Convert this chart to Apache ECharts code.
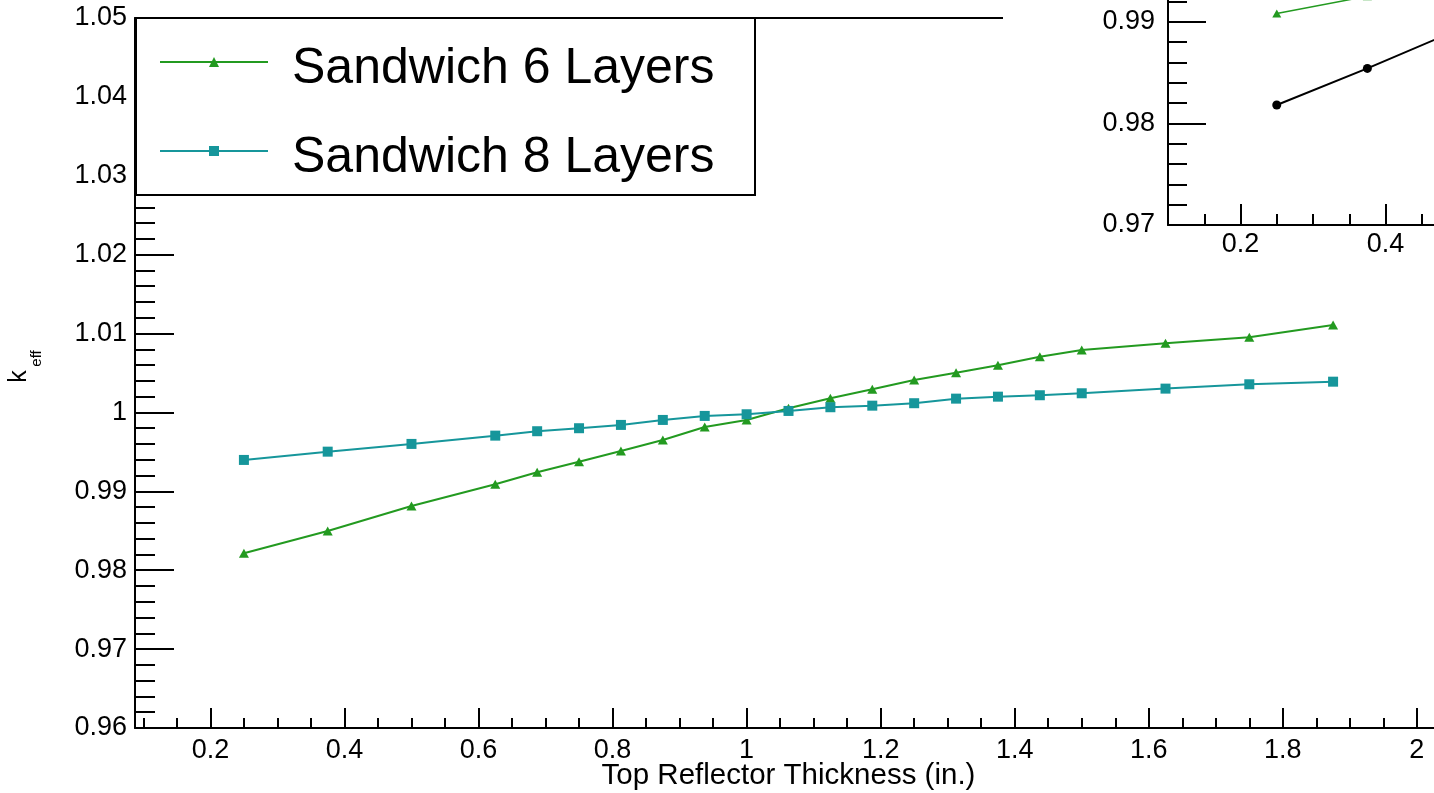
<!DOCTYPE html>
<html><head><meta charset="utf-8">
<script src="https://cdn.jsdelivr.net/npm/echarts@6/dist/echarts.min.js"></script>
<style>html,body{margin:0;padding:0;background:#fff}#c{width:1434px;height:793px}</style>
</head><body><div id="c"></div>
<script>
// ---- data ----
const thickness = [0.25,0.375,0.5,0.625,0.6875,0.75,0.8125,0.875,0.9375,1.0,1.0625,1.125,1.1875,1.25,1.3125,1.375,1.4375,1.5,1.625,1.75,1.875];
const sandwich6 = [0.98215,0.98498,0.98815,0.99090,0.99242,0.99376,0.99512,0.99651,0.99816,0.99905,1.00053,1.00180,1.00294,1.00412,1.00504,1.00598,1.00707,1.00792,1.00877,1.00953,1.01109];
const sandwich8 = [0.99398,0.99503,0.99601,0.99706,0.99762,0.99800,0.99842,0.99905,0.99956,0.99977,1.00019,1.00066,1.00086,1.00117,1.00175,1.00200,1.00218,1.00243,1.00302,1.00357,1.00390];
const insetX = [0.25,0.375,0.5];
const insetGreen = [0.9908,0.9925];
const insetBlack = [0.9818,0.9854,0.9892];
const xMajorTicks = [0.2,0.4,0.6,0.8,1.0,1.2,1.4,1.6,1.8,2.0];
const yMajorTicks = [0.96,0.97,0.98,0.99,1.0,1.01,1.02,1.03,1.04,1.05];
const insetXMajorTicks = [0.2,0.4];
const insetYMajorTicks = [0.97,0.98,0.99,1.0];

function steps(a, b, s) { const o = []; const n = Math.round((b - a) / s); for (let i = 0; i <= n; i++) o.push(+(a + i * s).toFixed(6)); return o; }
const xMinorTicks = steps(0.1, 2.0, 0.05);
const yMinorTicks = steps(0.96, 1.05, 0.002);
const insetXMinorTicks = steps(0.1, 0.6, 0.05);
const insetYMinorTicks = steps(0.97, 1.0, 0.002);
const fmt = v => String(+(+v).toFixed(3));

const GREEN = '#239a20', TEAL = '#16969b';
const FONT = "'Liberation Sans', Arial, Helvetica, sans-serif";
const lbl = {color: '#000', fontSize: 27, fontFamily: FONT};

function majorAxis(extra) {
  return Object.assign({
    type: 'value', splitLine: {show: false},
    axisLine: {show: true, onZero: false, lineStyle: {color: '#000', width: 2}},
  }, extra);
}

const chart = echarts.init(document.getElementById('c'), null, {renderer: 'canvas'});
chart.setOption({
  animation: false,
  backgroundColor: '#fff',
  textStyle: {fontFamily: FONT},
  grid: [
    {left: 135, top: 18, width: 1307, height: 710, containLabel: false, outerBoundsMode: 'none'},
    {left: 1168, top: -80, width: 362.5, height: 305, containLabel: false, outerBoundsMode: 'none'}
  ],
  xAxis: [
    majorAxis({gridIndex: 0, position: 'bottom', min: 0.0875, max: 2.0375,
      axisTick: {inside: true, length: 20, customValues: xMajorTicks, lineStyle: {color: '#000', width: 2}},
      axisLabel: Object.assign({customValues: xMajorTicks, formatter: fmt, margin: 9}, lbl),
      name: 'Top Reflector Thickness (in.)', nameLocation: 'middle', nameGap: 33, nameMoveOverlap: false,
      nameTextStyle: {color: '#000', fontSize: 29.5, fontFamily: FONT}}),
    {type: 'value', gridIndex: 0, position: 'bottom', min: 0.0875, max: 2.0375, splitLine: {show: false},
      axisLine: {show: false}, axisLabel: {show: false},
      axisTick: {inside: true, length: 10, customValues: xMinorTicks, lineStyle: {color: '#000', width: 2}}},
    {type: 'value', gridIndex: 0, position: 'top', min: 0.0875, max: 2.0375, splitLine: {show: false},
      axisLine: {show: true, lineStyle: {color: '#000', width: 2}}, axisLabel: {show: false}, axisTick: {show: false}},
    majorAxis({gridIndex: 1, position: 'bottom', min: 0.1, max: 0.6, z: 40,
      axisTick: {inside: true, length: 21, customValues: insetXMajorTicks, lineStyle: {color: '#000', width: 2}},
      axisLabel: Object.assign({customValues: insetXMajorTicks, formatter: fmt, margin: 6}, lbl)}),
    {type: 'value', gridIndex: 1, position: 'bottom', min: 0.1, max: 0.6, z: 40, splitLine: {show: false},
      axisLine: {show: false}, axisLabel: {show: false},
      axisTick: {inside: true, length: 11, customValues: insetXMinorTicks, lineStyle: {color: '#000', width: 2}}}
  ],
  yAxis: [
    majorAxis({gridIndex: 0, position: 'left', min: 0.96, max: 1.05,
      axisTick: {inside: true, length: 39, customValues: yMajorTicks, lineStyle: {color: '#000', width: 2}},
      axisLabel: Object.assign({customValues: yMajorTicks, formatter: fmt, margin: 8}, lbl)}),
    {type: 'value', gridIndex: 0, position: 'left', min: 0.96, max: 1.05, splitLine: {show: false},
      axisLine: {show: false}, axisLabel: {show: false},
      axisTick: {inside: true, length: 20, customValues: yMinorTicks, lineStyle: {color: '#000', width: 2}}},
    majorAxis({gridIndex: 1, position: 'left', min: 0.97, max: 1.0, z: 40,
      axisTick: {inside: true, length: 38, customValues: insetYMajorTicks, lineStyle: {color: '#000', width: 2}},
      axisLabel: Object.assign({customValues: insetYMajorTicks, formatter: fmt, margin: 13}, lbl)}),
    {type: 'value', gridIndex: 1, position: 'left', min: 0.97, max: 1.0, z: 40, splitLine: {show: false},
      axisLine: {show: false}, axisLabel: {show: false},
      axisTick: {inside: true, length: 19, customValues: insetYMinorTicks, lineStyle: {color: '#000', width: 2}}}
  ],
  legend: {
    data: ['Sandwich 6 Layers', 'Sandwich 8 Layers'],
    orient: 'vertical', left: 159, top: 44, padding: 0, itemGap: 39,
    itemWidth: 108, itemHeight: 12.5, z: 20,
    formatter: '{t|{name}}{s| }',
    textStyle: {color: '#000', fontSize: 50, fontFamily: FONT, padding: [0, 0, 0, 19],
      rich: {
        t: {fontSize: 50, lineHeight: 56, verticalAlign: 'bottom', color: '#000', fontFamily: FONT},
        s: {fontSize: 10, lineHeight: 64, color: '#000', fontFamily: FONT}
      }}
  },
  graphic: [
    {type: 'rect', z: 15, shape: {x: 136, y: 18, width: 619, height: 177},
      style: {fill: '#fff', stroke: '#000', lineWidth: 2}},
    {type: 'rect', z: 30, shape: {x: 1003, y: 0, width: 431, height: 268},
      style: {fill: '#fff'}},
    {type: 'text', z: 20, x: 19, y: 376.5, rotation: Math.PI / 2,
      style: {text: 'k', fontSize: 25, fontFamily: FONT, fill: '#000', align: 'center', verticalAlign: 'middle'}},
    {type: 'text', z: 20, x: 37, y: 358.5, rotation: Math.PI / 2,
      style: {text: 'eff', fontSize: 15, fontFamily: FONT, fill: '#000', align: 'center', verticalAlign: 'middle'}}
  ],
  series: [
    {name: 'Sandwich 6 Layers', type: 'line', xAxisIndex: 0, yAxisIndex: 0,
      data: thickness.map((x, i) => [x, sandwich6[i]]),
      symbol: 'triangle', symbolSize: [10, 9], showAllSymbol: true,
      lineStyle: {color: GREEN, width: 2}, itemStyle: {color: GREEN}},
    {name: 'Sandwich 8 Layers', type: 'line', xAxisIndex: 0, yAxisIndex: 0,
      data: thickness.map((x, i) => [x, sandwich8[i]]),
      symbol: 'rect', symbolSize: 10, showAllSymbol: true,
      lineStyle: {color: TEAL, width: 2}, itemStyle: {color: TEAL}},
    {name: 'inset green', type: 'line', xAxisIndex: 3, yAxisIndex: 2, z: 41,
      data: insetGreen.map((y, i) => [insetX[i], y]),
      symbol: 'triangle', symbolSize: [9, 8], showAllSymbol: true,
      lineStyle: {color: GREEN, width: 1.5}, itemStyle: {color: GREEN}},
    {name: 'inset black', type: 'line', xAxisIndex: 3, yAxisIndex: 2, z: 41,
      data: insetBlack.map((y, i) => [insetX[i], y]),
      symbol: 'circle', symbolSize: 9, showAllSymbol: true,
      lineStyle: {color: '#000', width: 2}, itemStyle: {color: '#000'}}
  ]
});
</script></body></html>
